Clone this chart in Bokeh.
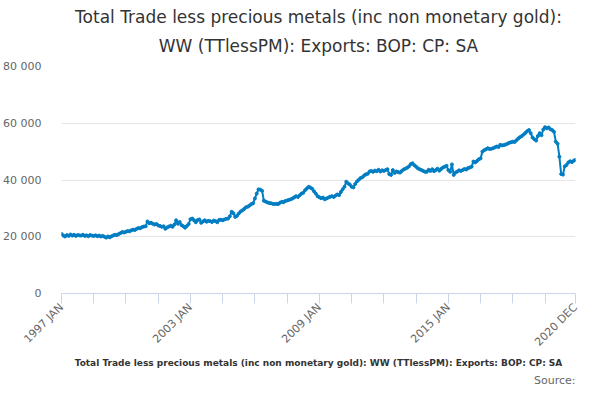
from bokeh.plotting import figure
from bokeh.models import Range1d, FixedTicker, CustomJSTickFormatter, Title
from bokeh.embed import file_html
from bokeh.resources import INLINE

values = [
21000,20400,20100,20600,20300,20800,20400,20700,20300,20600,20500,20400,
20700,20300,20500,20200,20600,20400,20300,20500,20200,20400,20100,20300,
20000,19700,20100,19800,20200,20500,20700,20600,21000,21300,21700,21500,
21800,22000,21900,22300,22500,22400,22800,23100,23000,23400,23600,23700,
25400,24800,24900,24600,24300,24500,24000,23800,23500,23700,22800,23300,
23600,23900,23500,24300,25800,24600,25200,24100,23700,23200,23800,24500,
26200,26400,25800,25100,25900,26100,24900,25400,25800,25300,25600,25500,
25200,25700,25500,25100,25900,26000,25800,26100,26300,26400,27200,28800,
28300,27000,27400,28200,28900,29300,29800,30400,30600,31000,31500,31800,
33500,35200,36700,36600,36200,32700,32400,32100,31900,31800,31600,31500,
31600,31500,32000,32300,32200,32600,32800,33000,33200,33500,33900,34300,
34000,34600,35200,35500,36400,37000,37600,37300,36900,36000,35200,34300,
33900,33600,33800,33200,33500,33800,34100,34300,34000,34500,34900,34700,
35800,36700,37600,39400,38800,38400,37600,37400,38600,39500,40100,40700,
41000,41600,42000,42200,43000,43200,42900,43300,43100,43600,43000,43400,
43200,43500,43800,42100,41800,43500,42500,43000,42800,42600,43200,43700,
44000,44300,44800,45600,45900,45200,44700,44100,43800,43500,43200,42900,
42900,43600,43200,43800,43100,43500,44000,43300,43900,44400,44700,45000,
43500,42900,45500,41800,42600,43000,43400,43200,43500,43900,43700,44200,
44400,44700,46500,46200,46700,47300,47600,50000,50500,50800,51200,50900,
51000,51200,51500,51800,51600,52400,52200,52300,52500,52800,53100,53300,
53500,53400,54000,54600,55100,55500,56000,56600,57200,57600,56500,55000,
54400,53900,55500,56500,55800,57800,58600,58200,58500,57900,57600,57000,
53500,52800,48200,42100,41900,44800,45300,46200,46600,46300,46800,47100,
]
months = list(range(len(values)))
tick_labels = {0: "1997 JAN", 72: "2003 JAN", 144: "2009 JAN", 216: "2015 JAN", 287: "2020 DEC"}
y_ticks = [0, 20000, 40000, 60000, 80000]
title_lines = ["Total Trade less precious metals (inc non monetary gold):",
               "WW (TTlessPM): Exports: BOP: CP: SA"]

p = figure(width=584, height=386, output_backend="svg", toolbar_location=None,
           x_range=Range1d(0, 287), y_range=Range1d(0, 80000),
           min_border_left=57, min_border_right=9, min_border_top=66, min_border_bottom=0)
p.title = None
p.add_layout(Title(text=title_lines[1], align="center", text_font="DejaVu Sans", text_font_size="17px",
                   text_font_style="normal", text_color="#333333", standoff=22), "above")
p.add_layout(Title(text=title_lines[0], align="center", text_font="DejaVu Sans", text_font_size="17px",
                   text_font_style="normal", text_color="#333333", standoff=-8), "above")

p.line(months, values, line_color="#007dc3", line_width=2)
p.scatter(months, values, size=3, color="#007dc3")

p.outline_line_color = None
p.xgrid.grid_line_color = None
p.ygrid.grid_line_color = "#e6e6e6"
p.yaxis.ticker = FixedTicker(ticks=y_ticks)
p.yaxis.formatter = CustomJSTickFormatter(code="return tick.toLocaleString('en').replace(/,/g,' ');")
p.yaxis.axis_line_color = None
p.yaxis.major_tick_line_color = None
p.yaxis.minor_tick_line_color = None
p.yaxis.major_label_text_color = "#666666"
p.yaxis.major_label_text_font_size = "11px"
p.yaxis.major_label_text_font = "DejaVu Sans"
p.yaxis.major_label_standoff = 14

p.xaxis.ticker = FixedTicker(ticks=list(range(0, 287, 18)) + [287])
p.xaxis.major_label_overrides = tick_labels
p.xaxis.formatter = CustomJSTickFormatter(code="return '';")
p.xaxis.major_label_orientation = 0.785
p.xaxis.major_label_text_color = "#666666"
p.xaxis.major_label_text_font_size = "11px"
p.xaxis.major_label_text_font = "DejaVu Sans"
p.xaxis.major_label_standoff = 2
p.xaxis.axis_line_color = "#ccd6eb"
p.xaxis.major_tick_line_color = "#ccd6eb"
p.xaxis.major_tick_out = 10
p.xaxis.major_tick_in = 0
p.xaxis.minor_tick_line_color = None
p.xaxis.axis_label = "Total Trade less precious metals (inc non monetary gold): WW (TTlessPM): Exports: BOP: CP: SA"
p.xaxis.axis_label_text_font = "DejaVu Sans"
p.xaxis.axis_label_text_font_style = "bold"
p.xaxis.axis_label_text_font_size = "9px"
p.xaxis.axis_label_text_color = "#333333"
p.xaxis.axis_label_standoff = 2

src = Title(text="Source:", align="right", text_font="DejaVu Sans", text_font_size="11px",
            text_color="#666666", text_font_style="normal", standoff=0)
p.add_layout(src, "below")

open("out.html", "w").write(file_html(p, INLINE))
